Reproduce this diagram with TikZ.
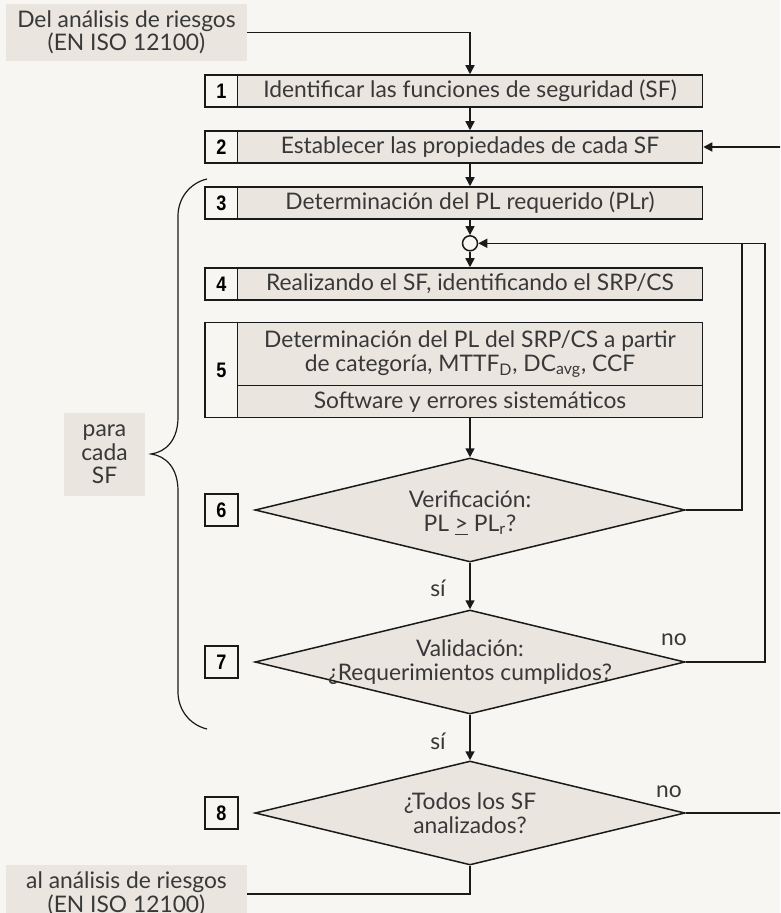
\documentclass[tikz,border=0pt]{standalone}
\usepackage{fontspec}
\setmainfont{Lato}
\newfontfamily\numfont{Liberation Sans}[FakeStretch=0.86]
\usetikzlibrary{arrows.meta,shapes.geometric}
\definecolor{paper}{HTML}{F7F6F2}
\definecolor{boxfill}{HTML}{EBE5DF}
\definecolor{ink}{HTML}{383838}
\definecolor{wire}{HTML}{1A1A1A}

\begin{document}
\begin{tikzpicture}[x=0.5pt,y=-0.5pt,
    every node/.style={text=ink,font=\fontsize{11.4}{11.8}\selectfont},
    stepbox/.style={draw=wire,fill=boxfill,line width=0.75pt,minimum width=232.5pt,minimum height=16pt,inner sep=0pt,align=center},
    numcell/.style={draw=wire,fill=paper,line width=0.75pt,minimum width=16.5pt,minimum height=16pt,inner sep=0pt,text=black,font=\numfont\bfseries\fontsize{10.5}{10.5}\selectfont},
    decision/.style={diamond,draw=wire,fill=boxfill,line width=0.75pt,minimum width=215pt,minimum height=52pt,inner sep=0pt},
    note/.style={fill=boxfill,align=center,inner sep=0pt},
    flow/.style={draw=wire,line width=0.75pt,-{Triangle[length=4.5pt,width=4.5pt]}},
    wirel/.style={draw=wire,line width=0.75pt}]
    \useasboundingbox (0,0) rectangle (780,913);
    \clip (0,0) rectangle (780,913);
    \fill[paper] (0,0) rectangle (780,913);

    \node[note,minimum width=120.5pt,minimum height=28.5pt] (src) at (126.5,32.3) {Del análisis de riesgos\\(EN ISO 12100)};
    \node[note,minimum width=120.5pt,minimum height=29pt] (sink) at (126.5,894) {al análisis de riesgos\\(EN ISO 12100)};
    \node[note,minimum width=40.5pt,minimum height=41.5pt] (each) at (104.5,454.5) {para\\cada\\SF};

    \node[numcell] (n1) at (221.5,91) {1};
    \node[stepbox] (s1) at (470,91) {Identificar las funciones de seguridad (SF)};
    \node[numcell] (n2) at (221.5,147) {2};
    \node[stepbox] (s2) at (470,147) {Establecer las propiedades de cada SF};
    \node[numcell] (n3) at (221.5,203) {3};
    \node[stepbox] (s3) at (470,203) {Determinación del PL requerido (PLr)};
    \node[circle,draw=wire,fill=paper,line width=0.75pt,minimum size=7.5pt,inner sep=0pt] (join) at (470,243.3) {};
    \node[numcell] (n4) at (221.5,284) {4};
    \node[stepbox] (s4) at (470,284) {Realizando el SF, identificando el SRP/CS};
    \node[numcell,minimum height=47.5pt] (n5) at (221.5,370.2) {5};
    \node[stepbox,minimum height=31.5pt] (s5) at (470,354.2) {Determinación del PL del SRP/CS a partir\\de categoría, MTTF\textsubscript{D}, DC\textsubscript{avg}, CCF};
    \node[stepbox] (s5b) at (470,401.7) {Software y errores sistemáticos};

    \node[decision] (d6) at (470,510) {};
    \node[align=center] at (470,513) {Verificación:\\PL \underline{>} PL\textsubscript{r}?};
    \node[numcell] (n6) at (221.5,510) {6};
    \node[decision] (d7) at (470,662) {};
    \node[align=center] at (d7) {Validación:\\¿Requerimientos cumplidos?};
    \node[numcell] (n7) at (221.5,662) {7};
    \node[decision] (d8) at (470,813) {};
    \node[align=center] at (d8) {¿Todos los SF\\analizados?};
    \node[numcell] (n8) at (221.5,813) {8};

    \node (yes6) at (438,588) {sí};
    \node (yes7) at (438,741.7) {sí};
    \node (no7) at (674,640) {no};
    \node (no8) at (669,791.7) {no};

    \coordinate (loopin) at (742,243.3);
    \coordinate (loopout) at (765,243.3);
    \coordinate (back) at (790,0);

    \draw[flow] (src.east) -| (s1.north);
    \draw[flow] (s1) -- (s2);
    \draw[flow] (s2) -- (s3);
    \draw[flow] (s3) -- (join);
    \draw[flow] (join) -- (s4);
    \draw[flow] (s5b) -- (d6.north);
    \draw[flow] (d6.south) -- (d7.north);
    \draw[flow] (d7.south) -- (d8.north);
    \draw[wirel] (d6.east) -| (loopin);
    \draw[flow] (d7.east) -| (loopout) -- (join.east);
    \draw[flow] (d8.east) -| (back |- s2.east) -- (s2.east);
    \draw[wirel] (d8.south) |- (sink.east);

    % brace round steps 3 to 7
    \draw[wire,line width=0.6pt] (207,179) .. controls (190,183) and (178,198) .. (178,216)
        -- (178,417) .. controls (178,440) and (166,452) .. (151,454)
        .. controls (166,456) and (178,468) .. (178,491)
        -- (178,692) .. controls (178,710) and (190,725) .. (207,729);
\end{tikzpicture}
\end{document}
